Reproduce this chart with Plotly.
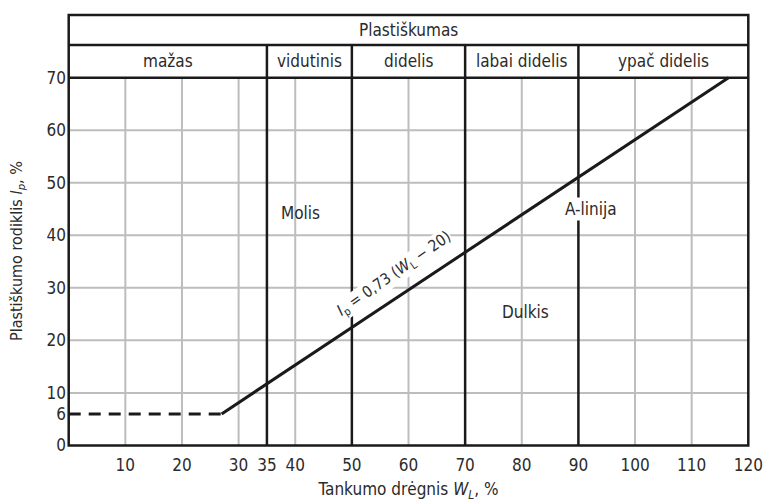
import plotly.graph_objects as go

# ---- data ----
x_ticks = [10, 20, 30, 35, 40, 50, 60, 70, 80, 90, 100, 110, 120]
y_ticks = [0, 6, 10, 20, 30, 40, 50, 60, 70]
grid_x = [10, 20, 30, 40, 60, 80, 100, 110]
grid_y = [10, 20, 30, 40, 50, 60]
class_bounds = [0, 35, 50, 70, 90, 120]
class_labels = ["mažas", "vidutinis", "didelis", "labai didelis", "ypač didelis"]
header_title = "Plastiškumas"
a_line_x = [27, 116.5]
a_line_y = [6, 70]
dash_x = [0, 27]
dash_y = [6, 6]
region_labels = ["Molis", "Dulkis", "A-linija"]
region_x = [37.2, 80.6, 92.3]
region_y = [44.2, 25.4, 45.0]
formula_text = "<i>I</i><sub>p</sub> = 0,73 (<i>W</i><sub>L</sub> − 20)"
formula_x = 57.6
formula_y = 32.6

X_MAX = 120
Y_TOP = 70
ROW2_TOP = 76.2
HEAD_TOP = 81.9

FONT = "DejaVu Sans Condensed, Liberation Sans Narrow, sans-serif"
TXT = "#2b2b2b"
DARK = "#1a1a1a"
GRID = "#bdbdbd"
FS = 17

fig = go.Figure()

fig.add_trace(go.Scatter(x=dash_x, y=dash_y, mode="lines",
                         line=dict(color=DARK, width=3, dash="12px,8px"),
                         hoverinfo="skip", showlegend=False))
fig.add_trace(go.Scatter(x=a_line_x, y=a_line_y, mode="lines",
                         line=dict(color=DARK, width=3),
                         hoverinfo="skip", showlegend=False))

shapes = []
for gx in grid_x:
    shapes.append(dict(type="line", xref="x", yref="y", x0=gx, x1=gx, y0=0, y1=Y_TOP,
                       line=dict(color=GRID, width=2), layer="below"))
for gy in grid_y:
    shapes.append(dict(type="line", xref="x", yref="y", x0=0, x1=X_MAX, y0=gy, y1=gy,
                       line=dict(color=GRID, width=2), layer="below"))
for b in class_bounds[1:-1]:
    shapes.append(dict(type="line", xref="x", yref="y", x0=b, x1=b, y0=0, y1=ROW2_TOP,
                       line=dict(color=DARK, width=2.5)))
for hy in [Y_TOP, ROW2_TOP]:
    shapes.append(dict(type="line", xref="x", yref="y", x0=0, x1=X_MAX, y0=hy, y1=hy,
                       line=dict(color=DARK, width=2.5)))
shapes.append(dict(type="rect", xref="x", yref="y", x0=0, x1=X_MAX, y0=0, y1=HEAD_TOP,
                   line=dict(color=DARK, width=2.5)))

annotations = []
annotations.append(dict(x=X_MAX / 2, y=(ROW2_TOP + HEAD_TOP) / 2, xref="x", yref="y",
                        text=header_title, showarrow=False,
                        font=dict(family=FONT, size=FS, color=TXT)))
for i, lab in enumerate(class_labels):
    cx = (class_bounds[i] + class_bounds[i + 1]) / 2
    annotations.append(dict(x=cx, y=(Y_TOP + ROW2_TOP) / 2, xref="x", yref="y",
                            text=lab, showarrow=False,
                            font=dict(family=FONT, size=FS, color=TXT)))
annotations.append(dict(x=region_x[0], y=region_y[0], xref="x", yref="y", text=region_labels[0],
                        showarrow=False, xanchor="left",
                        font=dict(family=FONT, size=FS, color=TXT)))
annotations.append(dict(x=region_x[1], y=region_y[1], xref="x", yref="y", text=region_labels[1],
                        showarrow=False,
                        font=dict(family=FONT, size=FS, color=TXT)))
annotations.append(dict(x=region_x[2], y=region_y[2], xref="x", yref="y", text=region_labels[2],
                        showarrow=False, bgcolor="white", borderpad=1,
                        font=dict(family=FONT, size=FS, color=TXT)))
annotations.append(dict(x=formula_x, y=formula_y, xref="x", yref="y", text=formula_text,
                        showarrow=False, textangle=-35, bgcolor="white", borderpad=0,
                        font=dict(family=FONT, size=15.5, color=TXT)))
# y-axis title
annotations.append(dict(x=0, y=37, xref="paper", yref="y", xshift=-50, xanchor="center",
                        yanchor="middle",
                        text="Plastiškumo rodiklis <i>I</i><sub><i>p</i></sub>, %",
                        showarrow=False, textangle=-90,
                        font=dict(family=FONT, size=16, color=TXT)))

fig.update_layout(
    width=764, height=502,
    margin=dict(l=67, r=14, t=13, b=55, autoexpand=False),
    paper_bgcolor="white", plot_bgcolor="white",
    shapes=shapes, annotations=annotations,
    font=dict(family=FONT, size=FS, color=TXT),
    xaxis=dict(range=[-0.3, 120.3], tickvals=x_ticks, ticktext=[str(v) for v in x_ticks],
               showgrid=False, zeroline=False, showline=False, ticks="", automargin=False,
               ticklabelstandoff=6,
               tickfont=dict(family=FONT, size=FS, color=TXT),
               title=dict(text="Tankumo drėgnis <i>W</i><sub><i>L</i></sub>, %", standoff=10,
                          font=dict(family=FONT, size=FS, color=TXT))),
    yaxis=dict(range=[-0.3, 82.3], tickvals=y_ticks, ticktext=[str(v) for v in y_ticks],
               showgrid=False, zeroline=False, showline=False, ticks="", automargin=False,
               tickfont=dict(family=FONT, size=FS, color=TXT)),
)

fig.write_html("out.html", config={"displayModeBar": False},
               post_script="document.body.style.margin='0';")
